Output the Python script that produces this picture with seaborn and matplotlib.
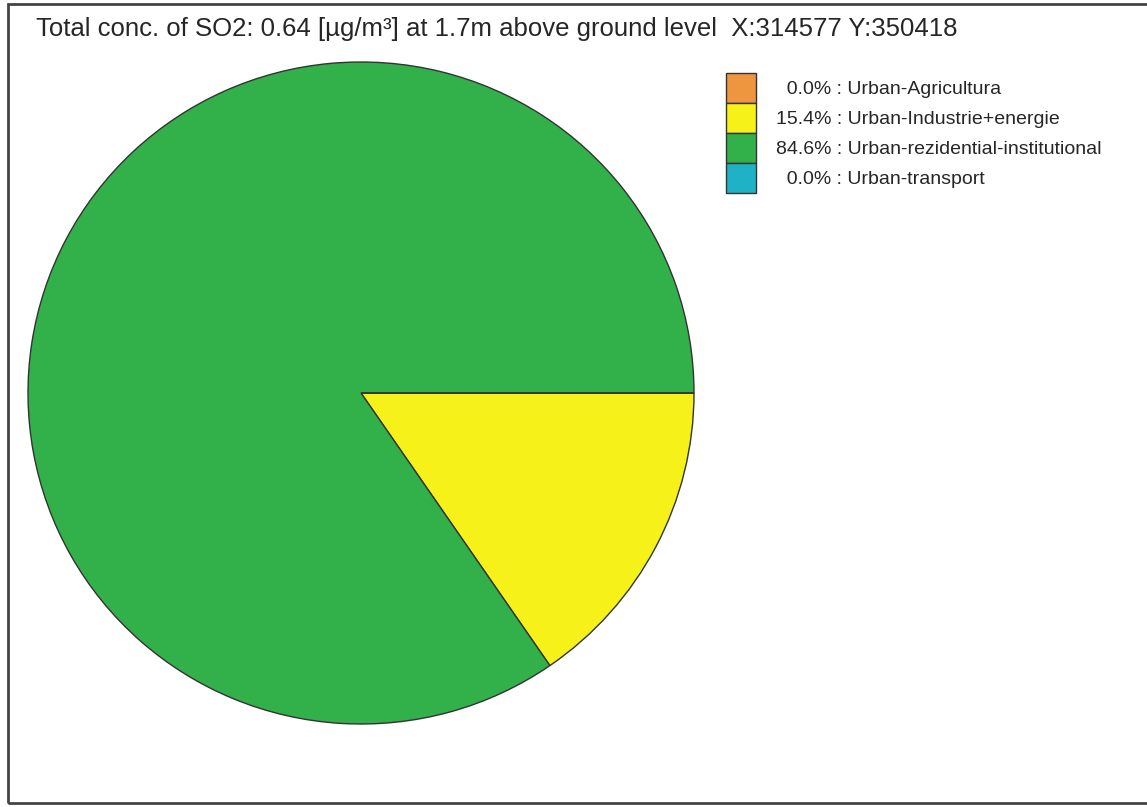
import matplotlib
matplotlib.use('Agg')
import matplotlib.pyplot as plt
from matplotlib.patches import Rectangle, Patch
import seaborn as sns

sources = ['Urban-Agricultura', 'Urban-Industrie+energie',
           'Urban-rezidential-institutional', 'Urban-transport']
shares = [0.0, 15.4, 84.6, 0.0]
colors = ['#ee9540', '#f6f219', '#32b04a', '#1fb2c6']

title = 'Total conc. of SO2: 0.64 [µg/m³] at 1.7m above ground level  X:314577 Y:350418'

sns.set_style('white')
plt.rcParams['font.family'] = ['Liberation Sans', 'DejaVu Sans']

W, H = 1147, 807
fig = plt.figure(figsize=(W / 100, H / 100), dpi=100)

# pie box in pixel terms: centre (361, 393), radii ~333 x 331
cx, cy, rx, ry = 361, 393, 333, 331
ax = fig.add_axes([(cx - rx) / W, 1 - (cy + ry) / H, 2 * rx / W, 2 * ry / H])
ax.pie(shares, colors=colors, startangle=0, counterclock=False, radius=1,
       wedgeprops=dict(edgecolor='#333333', linewidth=1.0))
ax.set_xlim(-1.0, 1.0)
ax.set_ylim(-1.0, 1.0)
ax.set_aspect('auto')
ax.axis('off')

# outer frame
fig.patches.append(Rectangle((8 / W, 4 / H), 1.0, (803 - 4) / H,
                             transform=fig.transFigure, fill=False,
                             edgecolor='#444444', linewidth=2))

fig.text(36 / W, 1 - 29 / H, title, fontsize=18.5, va='center', ha='left')

labels = []
for s, name in zip(shares, sources):
    pct = f'{s:.1f}%'
    if s < 10:
        pct = '  ' + pct
    labels.append(f'{pct} : {name}')

handles = [Patch(facecolor=c, edgecolor='#333333', linewidth=1) for c in colors]
fig.legend(handles, labels, loc='upper left', bbox_to_anchor=(726 / W, 1 - 73 / H),
           frameon=False, fontsize=14, labelspacing=0, handleheight=2.0,
           handlelength=1.55, handletextpad=1.0, borderpad=0, borderaxespad=0)

fig.savefig('out.png', dpi=100)
